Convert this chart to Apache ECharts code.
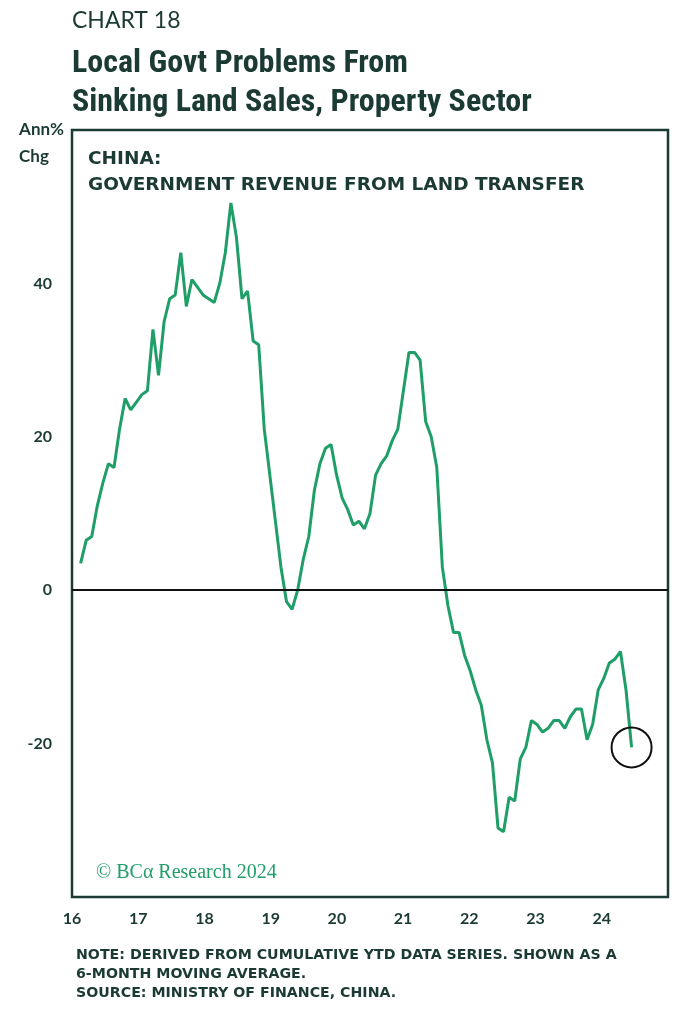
<!DOCTYPE html>
<html><head><meta charset="utf-8">
<script src="https://cdn.jsdelivr.net/npm/echarts@6/dist/echarts.min.js"></script>
<style>html,body{margin:0;padding:0;background:#fff}#c{width:691px;height:1034px}</style>
</head><body><div id="c"></div>
<script>
const values = [3.5,6.5,7,11,14,16.5,16,21,25,23.5,24.5,25.5,26,34,28,35,38,38.5,44,37,40.5,39.5,38.5,38,37.5,40,44,50.5,46,38,39,32.5,32,21,15,9,3,-1.5,-2.5,0,4,7,13,16.5,18.5,19,15,12,10.5,8.5,9,8,10,15,16.5,17.5,19.5,21,26,31,31,30,22,20,16,3,-2,-5.5,-5.5,-8.5,-10.5,-13,-15,-19.5,-22.5,-31,-31.5,-27,-27.5,-22,-20.5,-17,-17.5,-18.5,-18,-17,-17,-18,-16.5,-15.5,-15.5,-19.5,-17.5,-13,-11.5,-9.5,-9,-8,-13,-20.5];
const firstDate = 2016.13, lastDate = 2024.45;
const yTicks = [-20,0,20,40];
const xTicks = [2016,2017,2018,2019,2020,2021,2022,2023,2024];
const step = (lastDate-firstDate)/(values.length-1);
const data = values.map((v,i)=>[firstDate+i*step, v]);
const dark = '#1b3a34', green = '#1f9e68';
const chart = echarts.init(document.getElementById('c'));
chart.setOption({
  animation:false,
  grid:{left:72,right:23,top:130,bottom:137,show:true,borderColor:dark,borderWidth:2.5,backgroundColor:'transparent'},
  xAxis:{type:'value',min:2016,max:2025,interval:1,
    axisLine:{show:false,onZero:false},axisTick:{show:false},splitLine:{show:false},
    axisLabel:{color:dark,fontWeight:'bold',fontSize:16,fontFamily:'Lato',margin:14,
      formatter:v=>xTicks.includes(v)?String(v-2000):''}},
  yAxis:{type:'value',min:-40,max:60,interval:20,
    axisLine:{show:false},axisTick:{show:false},splitLine:{show:false},
    axisLabel:{color:dark,fontWeight:'bold',fontSize:16,fontFamily:'Lato',margin:20,
      formatter:v=>yTicks.includes(v)?String(v):''}},
  series:[{type:'line',data:data,showSymbol:false,lineStyle:{color:green,width:3},
    markLine:{silent:true,symbol:'none',label:{show:false},lineStyle:{color:'#111',width:2,type:'solid'},data:[{yAxis:0}]},
    markPoint:{symbol:'circle',symbolSize:40,label:{show:false},
      itemStyle:{color:'rgba(0,0,0,0)',borderColor:'#111',borderWidth:2},
      data:[{coord:data[data.length-1]}]}
  }],
  graphic:[
    {type:'text',left:72,top:9,style:{text:'CHART 18',fill:dark,font:'23px Lato'}},
    {type:'text',left:72,top:44,style:{text:'Local Govt Problems From\nSinking Land Sales, Property Sector',fill:dark,font:'bold 32px "Roboto Condensed", Roboto',lineHeight:39}},
    {type:'text',right:627,top:116,style:{text:'Ann%\nChg',fill:dark,font:'bold 17px Lato',lineHeight:27,align:'right'}},
    {type:'text',left:88,top:146,style:{text:'CHINA:\nGOVERNMENT REVENUE FROM LAND TRANSFER',fill:dark,font:'bold 18.5px "DejaVu Sans"',lineHeight:26}},
    {type:'text',left:76,top:946,style:{text:'NOTE: DERIVED FROM CUMULATIVE YTD DATA SERIES. SHOWN AS A\n6-MONTH MOVING AVERAGE.\nSOURCE: MINISTRY OF FINANCE, CHINA.',fill:dark,font:'bold 14.2px "DejaVu Sans"',lineHeight:19}},
    {type:'text',left:96,top:863,style:{text:'© BCα Research 2024',fill:green,font:'20px "Liberation Serif", serif'}}
  ]
});
</script></body></html>
